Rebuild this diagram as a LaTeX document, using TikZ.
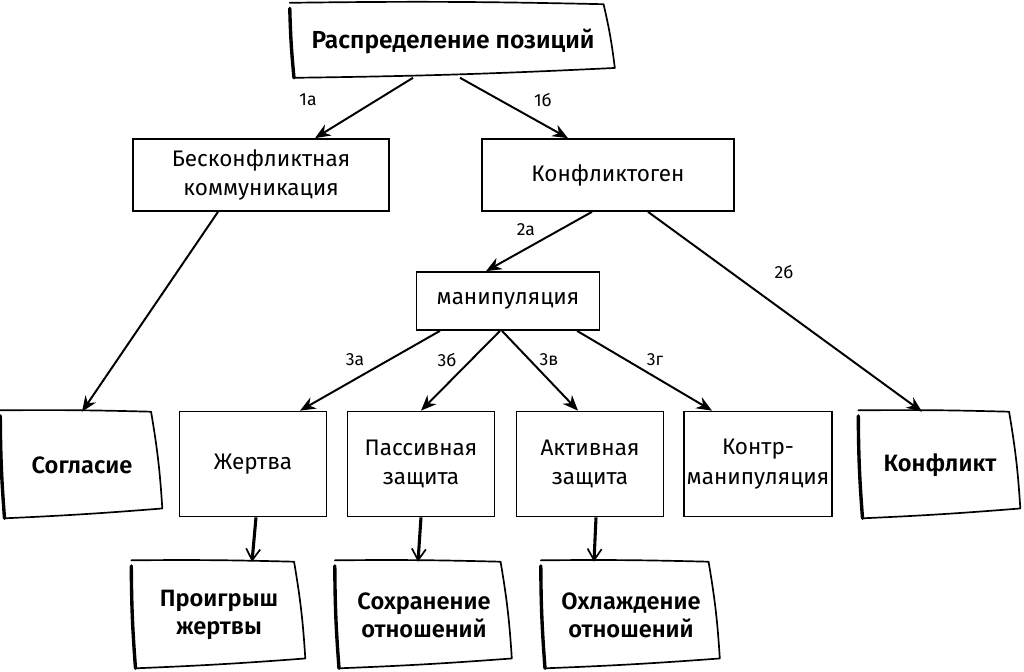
\documentclass[tikz,border=0pt]{standalone}
\usepackage{fontspec}
\setmainfont{Fira Sans}[BoldFont={* SemiBold}]
\usetikzlibrary{arrows.meta,positioning}

% hand drawn frame round a node
\newcommand{\roughframe}[1]{%
  \draw[line width=1.2pt, line cap=round, line join=round]
    ([shift={(-1pt,1pt)}]#1.north west) to[bend left=1] ([xshift=-8pt]#1.north east)
    to[bend left=3] ([yshift=7pt]#1.south east)
    to[bend left=1] ([xshift=2pt]#1.south west);
  \draw[line width=2.4pt, line cap=round]
    ([xshift=2pt]#1.south west) to[bend left=2] ([shift={(-1pt,-3pt)}]#1.north west);
}

\begin{document}
\begin{tikzpicture}[x=0.025cm, y=-0.025cm, >={Stealth[length=11pt,width=9pt]},
            plain/.style ={draw, line width=1.2pt, align=center, inner sep=2pt,
            font=\fontsize{16}{21}\selectfont},
            result/.style ={align=center, font=\fontsize{16.8}{20}\selectfont\bfseries,
            minimum width=4cm, minimum height=2.65cm},
            tag/.style ={font=\fontsize{12.5}{14}\selectfont},
            link/.style ={->, line width=1.4pt},
            lead/.style ={-{Straight Barb[length=8pt,width=10pt,line width=1.2pt]}, line width=2.2pt}]

        \useasboundingbox (0,0) rectangle (1024,671);

        %\node [estilo] (nombre) at (x px, y px) {};

        \node[result, minimum width=8.075cm, minimum height=1.825cm, font=\fontsize{17.5}{20}\selectfont\bfseries] (dist) at (453,41) {Распределение позиций};

        \node[plain, minimum width=6.4cm, minimum height=1.8cm] (nocon) at (261,175) {Бесконфликтная\\коммуникация};
        \node[plain, minimum width=6.3cm, minimum height=1.8cm] (confl) at (608,175) {Конфликтоген};
        \node[plain, minimum width=4.575cm, minimum height=1.45cm] (manip) at (508,301) {манипуляция};

        \node[result] (agree) at (82,465) {Согласие};
        \node[plain, minimum width=3.675cm, minimum height=2.625cm] (victim) at (253,464) {Жертва};
        \node[plain, minimum width=3.675cm, minimum height=2.625cm] (passive) at (421,464) {Пассивная\\защита};
        \node[plain, minimum width=3.675cm, minimum height=2.625cm] (active) at (590,464) {Активная\\защита};
        \node[plain, minimum width=3.675cm, minimum height=2.625cm] (counter) at (758,464) {Контр-\\манипуляция};
        \node[result] (conflict) at (940,465) {Конфликт};

        \node[result, minimum width=4.3cm] (loss) at (219,615) {Проигрыш\\жертвы};
        \node[result, minimum width=4.375cm] (keep) at (424,615) {Сохранение\\отношений};
        \node[result, minimum width=4.425cm] (cool) at (631,615) {Охлаждение\\отношений};

        \roughframe{dist}
        \roughframe{agree}
        \roughframe{conflict}
        \roughframe{loss}
        \roughframe{keep}
        \roughframe{cool}

        \node[tag] (t1a) at (308,100) {1а};
        \node[tag] (t1b) at (543,100) {1б};
        \node[tag] (t2a) at (526,230) {2а};
        \node[tag] (t2b) at (784,272) {2б};
        \node[tag] (t3a) at (355,360) {3а};
        \node[tag] (t3b) at (447,360) {3б};
        \node[tag] (t3c) at (549,360) {3в};
        \node[tag] (t3d) at (655,360) {3г};

        \draw[link] ([xshift=-1cm]dist.south) -- ([xshift=1.35cm]nocon.north);
        \draw[link] ([xshift=0.175cm]dist.south) -- ([xshift=-1cm]confl.north);

        \draw[link] ([xshift=-1.075cm]nocon.south) -- (agree.north);
        \draw[link] ([xshift=-0.4cm]confl.south) -- ([xshift=-0.55cm]manip.north);
        \draw[link] ([xshift=1cm]confl.south) -- ([xshift=-0.45cm]conflict.north);

        \draw[link] ([xshift=-1.7cm]manip.south) -- ([xshift=1.175cm]victim.north);
        \draw[link] ([xshift=-0.2cm]manip.south) -- (passive.north);
        \draw[link] ([xshift=-0.15cm]manip.south) -- ([xshift=-0.3cm]active.north);
        \draw[link] ([xshift=1.725cm]manip.south) -- ([xshift=-1.15cm]counter.north);

        \draw[lead] ([xshift=0.075cm]victim.south) -- ([xshift=0.825cm]loss.north);
        \draw[lead] (passive.south) -- ([xshift=-0.15cm]keep.north);
        \draw[lead] ([xshift=0.15cm]active.south) -- ([xshift=-0.925cm]cool.north);

    \end{tikzpicture}
\end{document}
